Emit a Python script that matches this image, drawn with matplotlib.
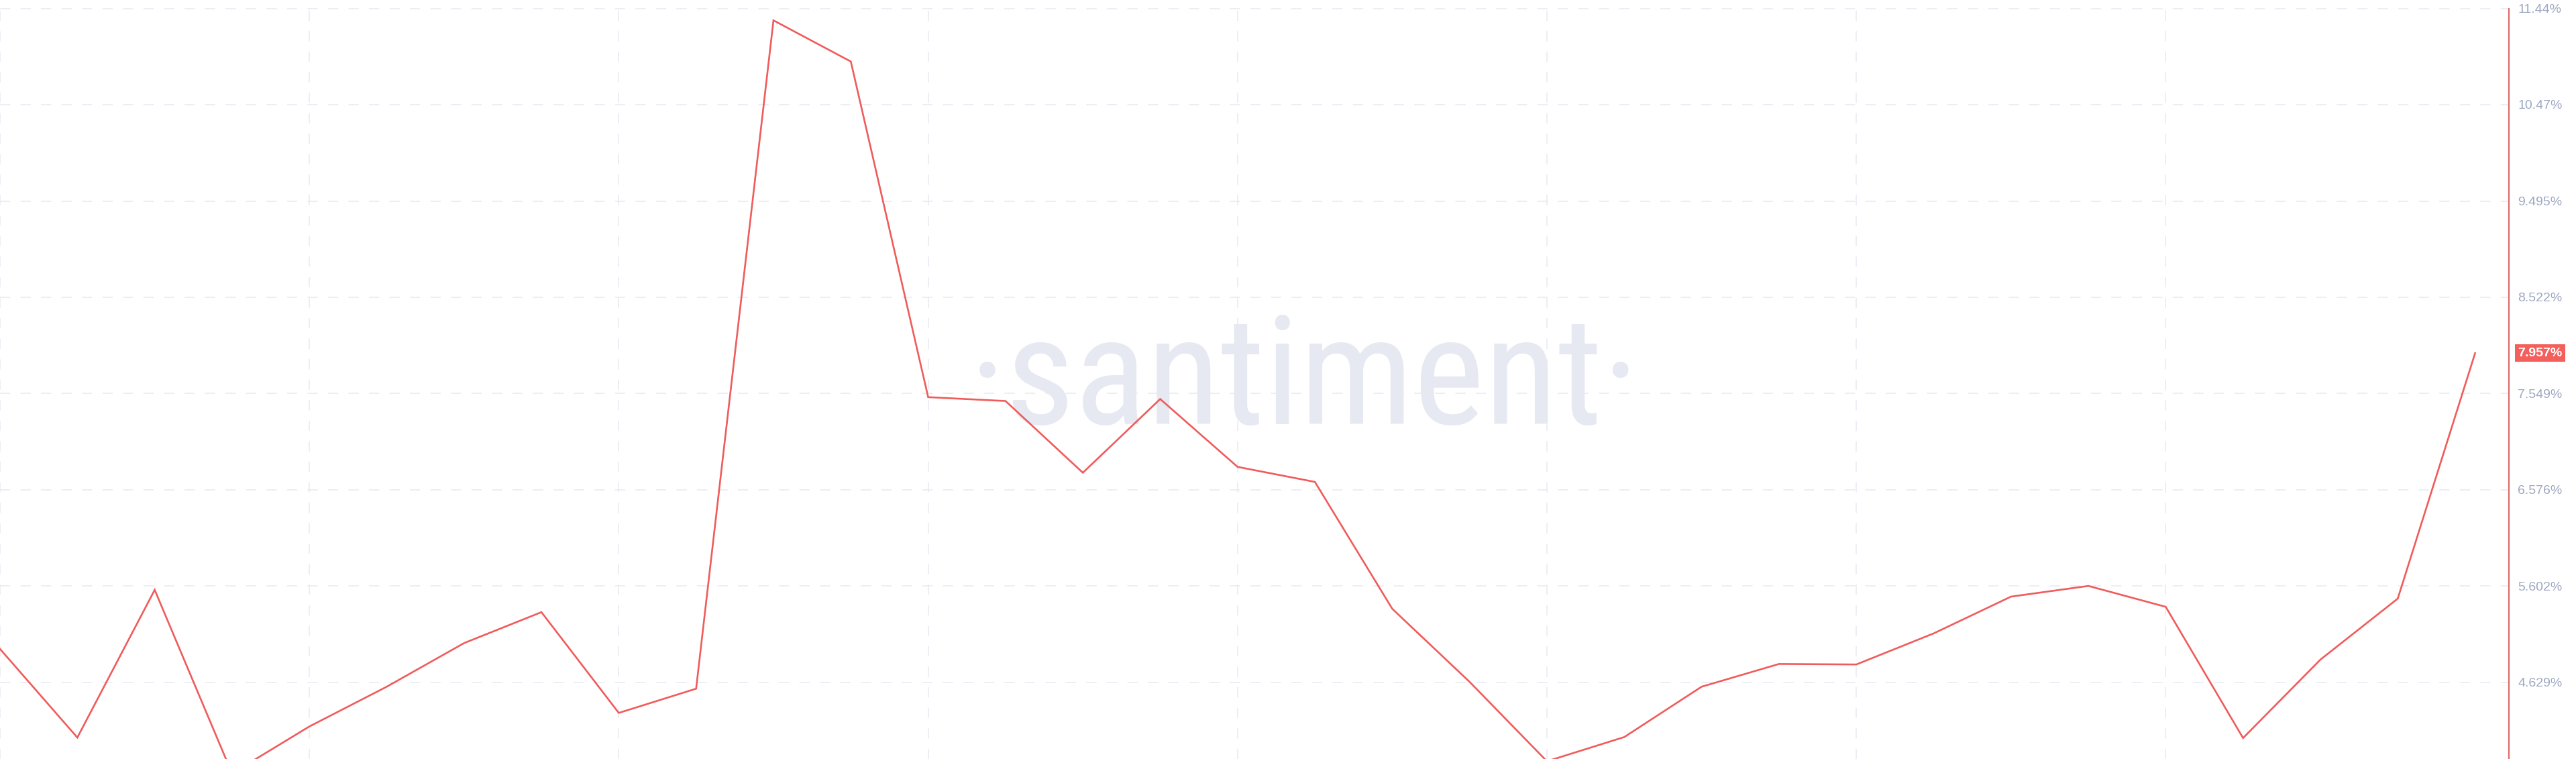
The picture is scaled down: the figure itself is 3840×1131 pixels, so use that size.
import numpy as np
import matplotlib
matplotlib.use('Agg')
import matplotlib.pyplot as plt
import matplotlib.transforms as mtransforms
from matplotlib import font_manager

# values, one point per step
values = [4.966, 4.070, 5.563, 3.707, 4.182, 4.584, 5.025, 5.338, 4.319,
          4.564, 11.322, 10.906, 7.512, 7.473, 6.748, 7.493, 6.807, 6.655,
          5.372, 4.633, 3.830, 4.075, 4.584, 4.814, 4.809, 5.123, 5.495,
          5.603, 5.392, 4.065, 4.858, 5.475, 7.957]
y_ticks = [4.629, 5.602, 6.576, 7.549, 8.522, 9.495, 10.47, 11.44]
y_tick_labels = ['4.629%', '5.602%', '6.576%', '7.549%', '8.522%', '9.495%', '10.47%', '11.44%']
last_label = '7.957%'
x_grid = [0, 4, 8, 12, 16, 20, 24, 28]

line_color = '#f05b5b'
spine_color = '#e06868'
grid_color = '#e6e9f1'
label_color = '#9da8c2'

W, H, DPI = 3840, 1131, 100
fig = plt.figure(figsize=(W / DPI, H / DPI), dpi=DPI)
ax = fig.add_axes([0, 0, 3740 / W, 1])

x = np.arange(len(values))
ax.plot(x, values, color=line_color, lw=1.9, zorder=3, solid_joinstyle='miter')

ax.set_xlim(0, 3740 / 115.3)
ax.set_ylim(3.853, 11.528)

ax.set_xticks(x_grid)
ax.set_xticklabels([])
ax.set_yticks(y_ticks)
ax.set_yticklabels(y_tick_labels)
ax.yaxis.tick_right()
ax.tick_params(axis='both', length=0)
ax.tick_params(axis='y', pad=9.5, labelsize=14, labelcolor=label_color)
for lab in ax.get_yticklabels():
    lab.set_fontfamily(['Liberation Sans', 'DejaVu Sans'])

ax.set_axisbelow(True)
ax.grid(True, color=grid_color, lw=1.1, linestyle=(0, (10, 10)))

for side in ['left', 'top', 'bottom']:
    ax.spines[side].set_visible(False)
ax.spines['right'].set_color(spine_color)
ax.spines['right'].set_linewidth(1.5)
ax.spines['right'].set_bounds(3.853, y_ticks[-1])

# badge with the latest value
trans = mtransforms.blended_transform_factory(ax.transAxes, ax.transData)
ax.annotate(last_label, xy=(1, values[-1]), xycoords=trans,
            xytext=(9.5, 0), textcoords='offset points',
            ha='left', va='center', fontsize=14, color='white',
            family=['Liberation Sans', 'DejaVu Sans'], fontweight='bold',
            bbox=dict(boxstyle='square,pad=0.22', fc='#f45f5c', ec='none'),
            annotation_clip=False, zorder=5)

# watermark: prefer a condensed sans face, then fit it to ~1000 px wide
prefs = ['open sans', 'noto sans', 'roboto', 'liberation sans', 'lato', 'dejavu sans']
best, best_rank = None, len(prefs)
for f in font_manager.fontManager.ttflist:
    nm = f.name.lower()
    if 'mono' in nm or 'serif' in nm or f.style != 'normal':
        continue
    if f.weight not in (400, 'normal', 'regular', 'book'):
        continue
    if not ('condensed' in nm or 'narrow' in nm or 'condensed' in str(f.stretch)):
        continue
    for rank, p in enumerate(prefs):
        if nm.startswith(p) and rank < best_rank:
            best, best_rank = f, rank
if best is not None:
    wm_font = font_manager.FontProperties(fname=best.fname, size=176)
else:
    wm_font = font_manager.FontProperties(family='Open Sans', size=176)

wm = ax.text(0.520, 0.441, '\u00b7santiment\u00b7', transform=ax.transAxes,
             ha='center', va='baseline', color='#e6e9f2',
             fontproperties=wm_font, zorder=0.2)
renderer = fig.canvas.get_renderer()
w_px = wm.get_window_extent(renderer).width
if w_px > 1000:
    wm.set_fontsize(176 * 1000 / w_px)

fig.savefig('out.png', dpi=DPI, facecolor='white')
